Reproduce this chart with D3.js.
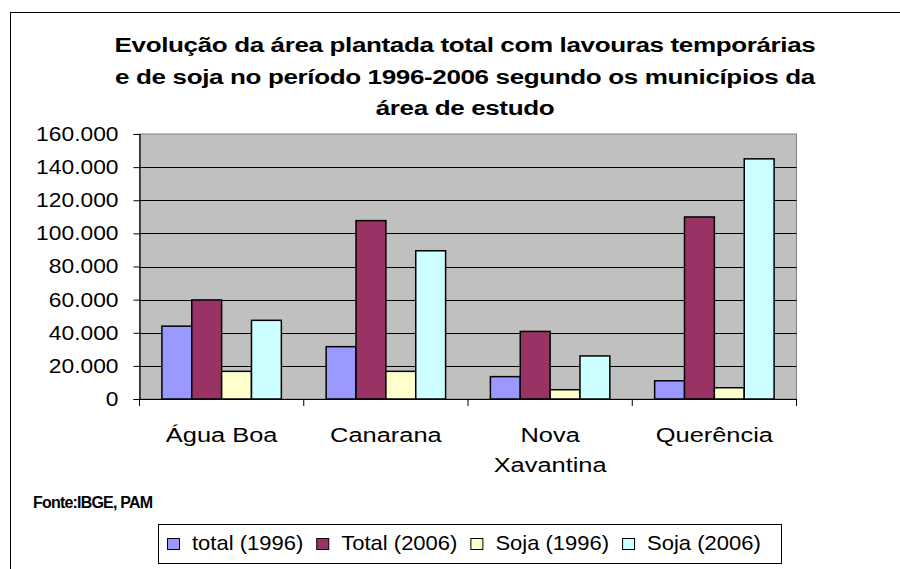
<!DOCTYPE html>
<html>
<head>
<meta charset="utf-8">
<script src="https://cdn.jsdelivr.net/npm/d3@7"></script>
<style>
  body { margin: 0; background: #fff; }
  text { font-family: Arial, "Liberation Sans", sans-serif; fill: #000; }
</style>
</head>
<body>
<div id="chart"></div>
<script>
// data
var municipios = ["Água Boa", "Canarana", "Nova Xavantina", "Querência"];
var seriesNames = ["total (1996)", "Total (2006)", "Soja (1996)", "Soja (2006)"];
var total1996 = [44000, 31600, 13500, 11000];
var total2006 = [59800, 107700, 40800, 109900];
var soja1996 = [16700, 16700, 5600, 6800];
var soja2006 = [47500, 89500, 26000, 145000];
var yTicks = [0, 20000, 40000, 60000, 80000, 100000, 120000, 140000, 160000];
var titleLines = [
    "Evolução da área plantada total com lavouras temporárias",
    "e de soja no período 1996-2006 segundo os municípios da",
    "área de estudo"
];
var colors = ["#9999ff", "#993366", "#ffffcc", "#ccffff"];

var width = 900, height = 569;
var plot = { left: 139.5, right: 796.5, top: 134, bottom: 399 };

var svg = d3.select("#chart").append("svg")
    .attr("width", width)
    .attr("height", height);

// outer frame
svg.append("rect")
    .attr("x", 10.5).attr("y", 12.5)
    .attr("width", 900).attr("height", 600)
    .attr("fill", "none").attr("stroke", "#000");

// title (the original text is drawn a bit wide)
svg.append("g").selectAll("text")
    .data(titleLines)
    .enter().append("text")
    .attr("text-anchor", "middle")
    .attr("font-size", 21)
    .attr("font-weight", "bold")
    .attr("letter-spacing", -0.3)
    .attr("transform", (d, i) => `translate(465,${52 + i * 31.5}) scale(1.24,1)`)
    .text(d => d);

// scales
var x0 = d3.scaleBand().domain(municipios).range([plot.left, plot.right]);
var x1 = d3.scaleBand().domain(seriesNames).range([0, x0.bandwidth()]).paddingOuter(0.75);
var y = d3.scaleLinear().domain([0, 160000]).range([plot.bottom, plot.top]);

var ptBR = d3.formatLocale({ decimal: ",", thousands: ".", grouping: [3], currency: ["", ""] });
var fmt = ptBR.format(",d");

// plot background
svg.append("rect")
    .attr("x", plot.left).attr("y", plot.top)
    .attr("width", plot.right - plot.left).attr("height", plot.bottom - plot.top)
    .attr("fill", "#c0c0c0")
    .attr("stroke", "#808080").attr("stroke-width", 1);

// gridlines
svg.append("g").selectAll("line")
    .data(yTicks.filter(d => d > 0 && d < 160000))
    .enter().append("line")
    .attr("x1", plot.left).attr("x2", plot.right)
    .attr("y1", d => Math.round(y(d)) + 0.5).attr("y2", d => Math.round(y(d)) + 0.5)
    .attr("stroke", "#000");

// bars
var table = municipios.map((m, i) => ({
    municipio: m,
    values: [total1996[i], total2006[i], soja1996[i], soja2006[i]]
}));

var groups = svg.append("g").selectAll("g")
    .data(table)
    .enter().append("g")
    .attr("transform", d => `translate(${x0(d.municipio)},0)`);

groups.selectAll("rect")
    .data(d => d.values.map((v, j) => ({ key: seriesNames[j], value: v, color: colors[j] })))
    .enter().append("rect")
    .attr("x", d => x1(d.key))
    .attr("y", d => y(d.value))
    .attr("width", x1.bandwidth())
    .attr("height", d => y(0) - y(d.value))
    .attr("fill", d => d.color)
    .attr("stroke", "#000")
    .attr("stroke-width", 1.5);

// y axis
var yAxis = svg.append("g")
    .attr("transform", `translate(${plot.left},0)`)
    .call(d3.axisLeft(y).tickValues(yTicks).tickFormat(fmt).tickSize(6).tickPadding(0));
yAxis.select(".domain").attr("stroke", "#000").attr("stroke-width", 1.2);
yAxis.selectAll(".tick line").attr("stroke", "#000");
yAxis.selectAll(".tick text")
    .attr("x", 0)
    .attr("font-size", 20)
    .attr("font-family", "Arial, 'Liberation Sans', sans-serif")
    .attr("fill", "#000")
    .attr("transform", "translate(-21,0) scale(1.14,1)");

// x axis
var xAxis = svg.append("g")
    .attr("transform", `translate(0,${plot.bottom})`)
    .call(d3.axisBottom(x0).tickSize(0).tickFormat(""));
xAxis.select(".domain").attr("stroke", "#000").attr("stroke-width", 1.2);
xAxis.selectAll(".tick").remove();

// category boundary ticks
svg.append("g").selectAll("line")
    .data(municipios.concat(["end"]))
    .enter().append("line")
    .attr("x1", (d, i) => i < municipios.length ? x0(d) : plot.right)
    .attr("x2", (d, i) => i < municipios.length ? x0(d) : plot.right)
    .attr("y1", plot.bottom).attr("y2", plot.bottom + 7)
    .attr("stroke", "#000");

// category labels (wrapped)
var catLabels = svg.append("g").selectAll("text")
    .data(municipios)
    .enter().append("text")
    .attr("text-anchor", "middle")
    .attr("font-size", 20)
    .attr("transform", d => `translate(${x0(d) + x0.bandwidth() / 2},442) scale(1.27,1)`);

catLabels.each(function (d) {
    var words = d === "Nova Xavantina" ? ["Nova", "Xavantina"] : [d];
    d3.select(this).selectAll("tspan")
        .data(words)
        .enter().append("tspan")
        .attr("x", 0)
        .attr("dy", (w, i) => i === 0 ? 0 : 30)
        .text(w => w);
});

// source note
svg.append("text")
    .attr("x", 33).attr("y", 508)
    .attr("font-size", 16)
    .attr("font-weight", "bold")
    .attr("letter-spacing", -0.8)
    .text("Fonte:IBGE, PAM");

// legend
var legend = svg.append("g").attr("transform", "translate(158,524)");
legend.append("rect")
    .attr("x", 0.5).attr("y", 0.5)
    .attr("width", 623).attr("height", 39)
    .attr("fill", "#fff").attr("stroke", "#000");

var cursor = 9;
seriesNames.forEach(function (name, i) {
    var item = legend.append("g").attr("transform", `translate(${cursor},0)`);
    item.append("rect")
        .attr("x", 0.5).attr("y", 14.5)
        .attr("width", 12).attr("height", 11)
        .attr("fill", colors[i])
        .attr("stroke", "#000");
    var t = item.append("text")
        .attr("font-size", 20)
        .attr("transform", "translate(25,26) scale(1.1,1)")
        .text(name);
    cursor += 25 + t.node().getComputedTextLength() * 1.1 + 13;
});
</script>
</body>
</html>
